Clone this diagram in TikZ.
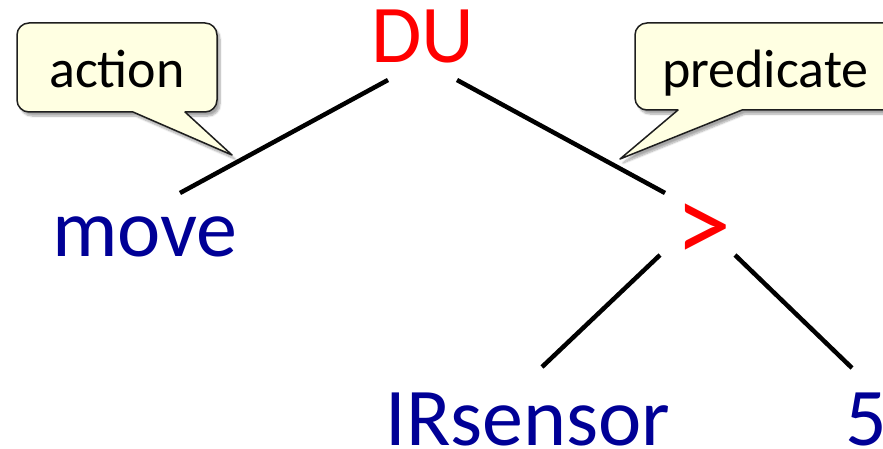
\documentclass[tikz,border=0pt]{standalone}
\usepackage{fontspec}
\setmainfont{Carlito}
\usetikzlibrary{shadows.blur}
\definecolor{termblue}{RGB}{0,0,150}
\definecolor{opred}{RGB}{255,0,0}
\definecolor{notefill}{RGB}{255,255,226}
\definecolor{noteedge}{RGB}{30,30,30}
\begin{document}
\begin{tikzpicture}[x=1pt,y=-1pt,
  treetext/.style={inner sep=0pt, anchor=base, font=\fontsize{82}{90}\selectfont},
  term/.style={treetext, text=termblue},
  oper/.style={treetext, text=opred},
  notetext/.style={inner sep=0pt, anchor=base, font=\fontsize{54}{60}\selectfont},
  edge/.style={line width=4.5pt, black},
  callout/.style={fill=notefill, draw=noteedge, line width=1.5pt, line join=round,
    blur shadow={shadow xshift=3pt, shadow yshift=-4pt, shadow blur steps=8, shadow opacity=35}}
]
\useasboundingbox (0,0) rectangle (883,449);
\clip (0,0) rectangle (883,449);

% tree labels
\node[oper] (du) at (423,63) {DU};
\node[term] (move) at (145,256) {move};
\node[oper, font=\fontsize{112}{120}\selectfont] (gt) at (703,262) {>};
\node[term] (ir) at (528,445) {IRsensor};
\node[term] (five) at (866,445) {5};

% edge end points
\coordinate (du-l) at (388,80);
\coordinate (move-t) at (180,193);
\coordinate (du-r) at (457,80);
\coordinate (gt-t) at (665,193);
\coordinate (gt-l) at (660,255);
\coordinate (ir-t) at (542,367);
\coordinate (gt-r) at (735,255);
\coordinate (five-t) at (852,368);

\draw[edge] (du-l) -- (move-t);
\draw[edge] (du-r) -- (gt-t);
\draw[edge] (gt-l) -- (ir-t);
\draw[edge] (gt-r) -- (five-t);

% callout for the action branch
\coordinate (act-tip) at (232,155);
\draw[callout] (117,23) [rounded corners=12pt] -- (17,23) -- (17,112) [sharp corners] -- (133,112)
   -- (act-tip) -- (185,112) [rounded corners=12pt] -- (217,112) -- (217,23) -- cycle;
\node[notetext] (act) at (117,88) {action};

% callout for the predicate branch
\coordinate (pred-tip) at (620,159);
\draw[callout] (760,23) [rounded corners=12pt] -- (635,23) -- (635,110) [sharp corners] -- (678,110)
   -- (pred-tip) -- (742,110) [rounded corners=12pt] -- (900,110) -- (900,23) -- cycle;
\node[notetext, anchor=base west] (pred) at (662,88) {predicate};
\end{tikzpicture}
\end{document}
